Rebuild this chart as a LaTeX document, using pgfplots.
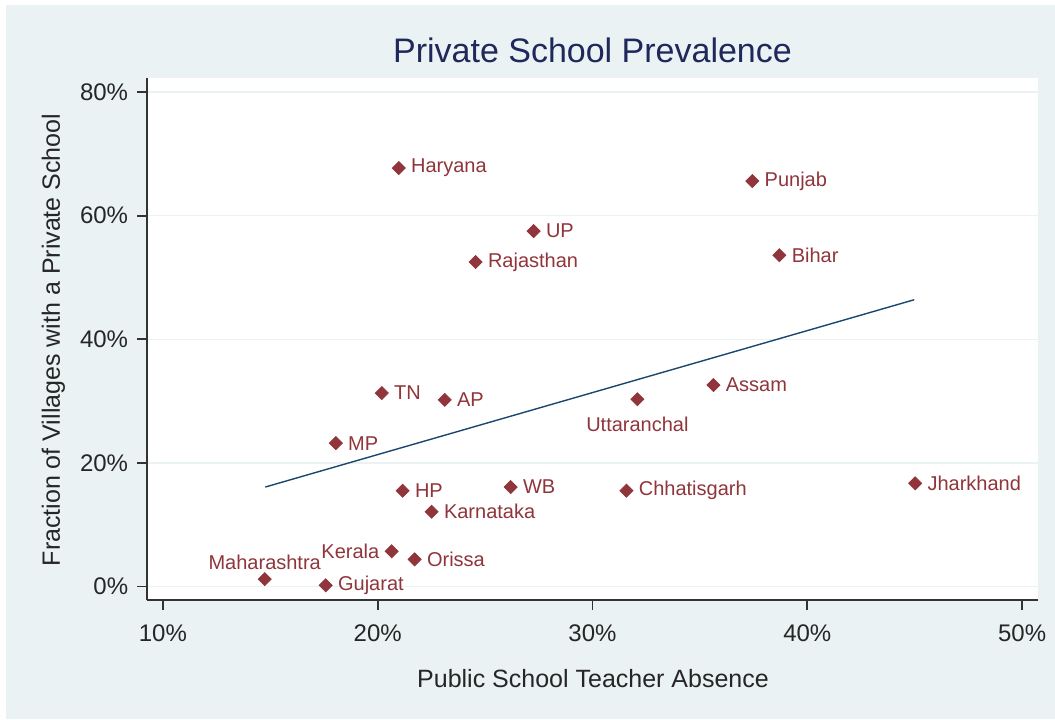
\documentclass[border=0pt]{standalone}
\usepackage{pgfplots}
\pgfplotsset{compat=1.18}
\usepackage{fontspec}
\setmainfont{Liberation Sans}
\definecolor{bgc}{RGB}{234,242,243}
\definecolor{mar}{RGB}{144,53,59}
\definecolor{navy}{RGB}{26,71,111}
\definecolor{ttl}{RGB}{30,40,90}
\pgfplotsset{
  pts/.style={only marks, mark=square*, mark size=2.3pt,
    mark options={rotate=45, fill=mar, draw=mar},
    nodes near coords, point meta=explicit symbolic,
    every node near coord/.append style={inner sep=0pt, font=\fontsize{10}{12}\selectfont, text=mar}},
}
\begin{document}
\begin{tikzpicture}
\useasboundingbox (-73.5pt,-59.5pt) rectangle (454pt,300pt);
\fill[white] (-73.5pt,-59.5pt) rectangle (454pt,300pt);
\fill[bgc] (-70.5pt,-59.5pt) rectangle (454pt,297.5pt);
\begin{axis}[
  scale only axis, width=445.5pt, height=261pt,
  at={(0,0)}, anchor=south west,
  xmin=9.26, xmax=50.74, ymin=-2.18, ymax=82.27,
  axis x line*=bottom, axis y line*=left,
  axis line style={-, line width=0.9pt, color=black!80},
  axis background/.style={fill=white},
  xtick={10,20,30,40,50}, xticklabels={10\%,20\%,30\%,40\%,50\%},
  ytick={0,20,40,60,80}, yticklabels={0\%,20\%,40\%,60\%,80\%},
  tick align=outside, major tick length=4.75pt,
  tick style={line width=0.9pt, black!80},
  ymajorgrids, grid style={bgc, line width=0.7pt},
  ticklabel style={font=\fontsize{12}{14}\selectfont, text=black!85},
  yticklabel style={inner sep=0pt, xshift=-4.5pt},
  xticklabel style={inner sep=0pt, yshift=-7.5pt},
  clip=false,
]
\addplot[navy, line width=0.7pt] coordinates {(14.77,16.1) (44.98,46.4)};
\addplot[pts, every node near coord/.append style={anchor=west, xshift=6pt}] table[meta=label] {
x y label
20.98 67.7 Haryana
37.44 65.6 Punjab
27.26 57.5 UP
24.56 52.5 Rajasthan
38.70 53.6 Bihar
20.19 31.3 TN
23.12 30.2 AP
18.05 23.2 MP
35.63 32.6 Assam
21.16 15.5 HP
26.19 16.1 WB
31.58 15.5 Chhatisgarh
45.02 16.7 Jharkhand
22.51 12.1 Karnataka
21.72 4.4 Orissa
17.58 0.2 Gujarat
};
\addplot[pts, every node near coord/.append style={anchor=north, yshift=-8.5pt}] table[meta=label] {
x y label
32.09 30.3 Uttaranchal
};
\addplot[pts, every node near coord/.append style={anchor=south, yshift=4.5pt}] table[meta=label] {
x y label
14.74 1.2 Maharashtra
};
\addplot[pts, every node near coord/.append style={anchor=east, xshift=-6pt}] table[meta=label] {
x y label
20.65 5.7 Kerala
};
\end{axis}
\node[anchor=base, font=\fontsize{17}{20}\selectfont, text=ttl] at (222.75pt,268.5pt) {Private School Prevalence};
\node[anchor=base, font=\fontsize{12.5}{15}\selectfont, text=black!85] at (223pt,-43.5pt) {Public School Teacher Absence};
\node[rotate=90, anchor=base, font=\fontsize{12.5}{15}\selectfont, text=black!85] at (-43.5pt,130pt) {Fraction of Villages with a Private School};
\end{tikzpicture}
\end{document}
